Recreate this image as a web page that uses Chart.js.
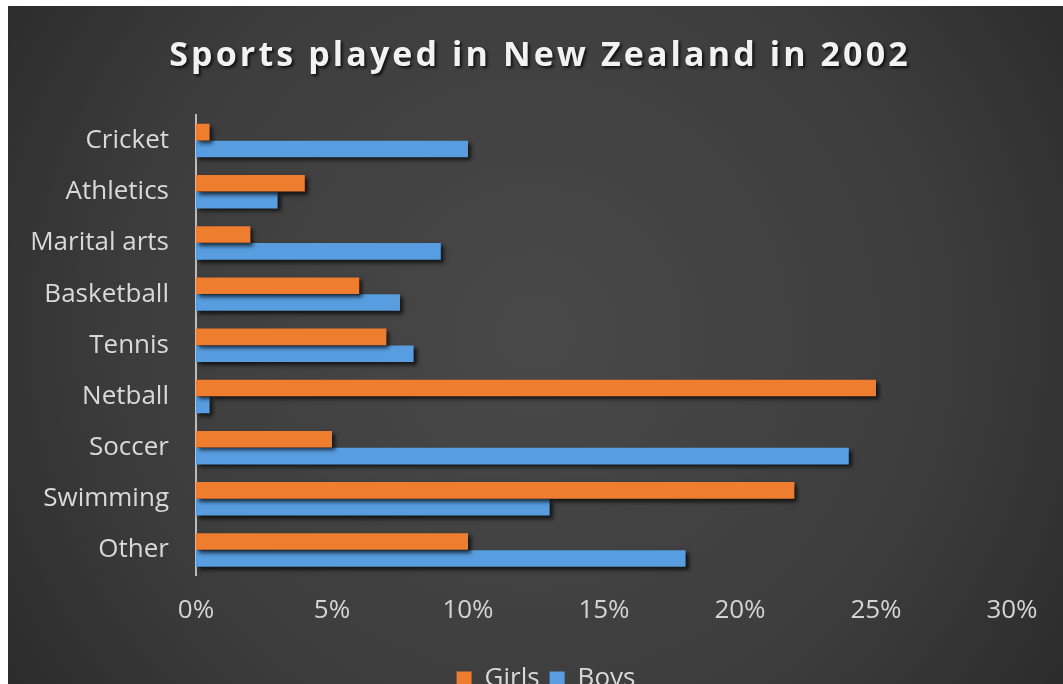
<!DOCTYPE html>
<html>
<head>
<meta charset="utf-8">
<script src="https://cdn.jsdelivr.net/npm/chart.js@4/dist/chart.umd.min.js"></script>
<style>
  html, body { margin: 0; padding: 0; background: #ffffff; overflow: hidden; }
  #wrap { position: absolute; left: 8px; top: 6px; width: 1055px; height: 696px; }
</style>
</head>
<body>
<div id="wrap"><canvas id="chart" width="1055" height="696"></canvas></div>
<script>
// Sports played in New Zealand in 2002 (percent of children)
const titleText = 'Sports played in New Zealand in 2002';
const sports = ['Cricket', 'Athletics', 'Marital arts', 'Basketball', 'Tennis', 'Netball', 'Soccer', 'Swimming', 'Other'];
const girls = [0.5, 4, 2, 6, 7, 25, 5, 22, 10];
const boys  = [10, 3, 9, 7.5, 8, 0.5, 24, 13, 18];
const xTicks = [0, 5, 10, 15, 20, 25, 30];

const FONT = '"Open Sans", "DejaVu Sans", sans-serif';

// Dark radial backdrop
const backdrop = {
  id: 'backdrop',
  beforeDraw(chart) {
    const { ctx, width, height } = chart;
    const g = ctx.createRadialGradient(width * 0.5, height * 0.47, 20, width * 0.5, height * 0.47, width * 0.62);
    g.addColorStop(0, '#484848');
    g.addColorStop(0.6, '#3d3d3d');
    g.addColorStop(1, '#2a2a2a');
    ctx.save();
    ctx.fillStyle = g;
    ctx.fillRect(0, 0, width, height);
    ctx.restore();
  }
};

// Spaced, shadowed title
const spacedTitle = {
  id: 'spacedTitle',
  afterDraw(chart) {
    const { ctx } = chart;
    ctx.save();
    ctx.font = 'bold 34px ' + FONT;
    ctx.letterSpacing = '3.1px';
    ctx.textAlign = 'center';
    ctx.textBaseline = 'middle';
    ctx.shadowColor = 'rgba(0,0,0,0.75)';
    ctx.shadowOffsetX = 2;
    ctx.shadowOffsetY = 2;
    ctx.shadowBlur = 3;
    ctx.fillStyle = '#f2f2f2';
    ctx.fillText(titleText, 532, 50);
    ctx.restore();
  }
};

// Drop shadow under the bars
const barShadow = {
  id: 'barShadow',
  beforeDatasetsDraw(chart) {
    const { ctx } = chart;
    ctx.save();
    ctx.shadowColor = 'rgba(0,0,0,0.7)';
    ctx.shadowOffsetX = 3;
    ctx.shadowOffsetY = 3;
    ctx.shadowBlur = 4;
  },
  afterDatasetsDraw(chart) {
    chart.ctx.restore();
  }
};

// Centre the legend under the plot area rather than the whole canvas
const legendShift = {
  id: 'legendShift',
  afterLayout(chart) {
    const lg = chart.legend;
    if (!lg) return;
    const dx = 26;
    lg.left += dx;
    lg.right += dx;
  }
};

new Chart(document.getElementById('chart'), {
  type: 'bar',
  data: {
    labels: sports,
    datasets: [
      { label: 'Girls', data: girls, backgroundColor: '#ef7d30', borderWidth: 0 },
      { label: 'Boys',  data: boys,  backgroundColor: '#579de0', borderWidth: 0 }
    ]
  },
  options: {
    indexAxis: 'y',
    responsive: false,
    animation: false,
    devicePixelRatio: 1,
    layout: { padding: { top: 109, right: 51, left: 20, bottom: 0 } },
    datasets: { bar: { categoryPercentage: 0.66, barPercentage: 0.98 } },
    scales: {
      x: {
        min: 0,
        max: 30,
        afterBuildTicks(axis) { axis.ticks = xTicks.map(v => ({ value: v })); },
        afterFit(axis) { axis.height = 80.4; },
        grid: { display: false, drawTicks: false },
        border: { display: false },
        ticks: {
          padding: 19,
          color: '#d4d4d4',
          font: { family: FONT, size: 26 },
          callback: v => v + '%'
        }
      },
      y: {
        afterFit(axis) { axis.width = 168; },
        grid: { display: false, drawTicks: false },
        border: { display: true, color: '#bcbcbc', width: 2 },
        ticks: {
          padding: 27,
          color: '#d9d9d9',
          font: { family: FONT, size: 26 }
        }
      }
    },
    plugins: {
      title: { display: false },
      tooltip: { enabled: false },
      legend: {
        position: 'bottom',
        labels: {
          color: '#d9d9d9',
          boxWidth: 15,
          boxHeight: 15,
          padding: 10,
          font: { family: FONT, size: 26 }
        }
      }
    }
  },
  plugins: [backdrop, barShadow, legendShift, spacedTitle]
});
</script>
</body>
</html>
